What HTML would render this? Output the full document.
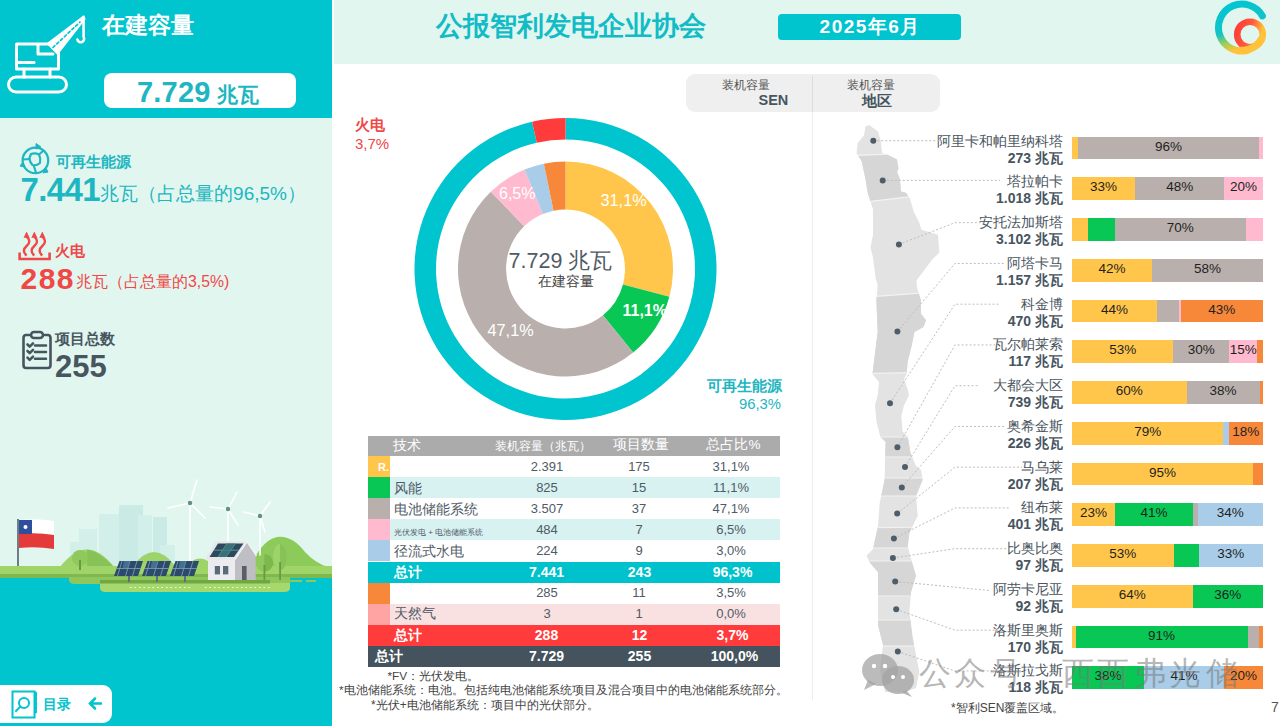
<!DOCTYPE html>
<html><head><meta charset="utf-8">
<style>
*{margin:0;padding:0;box-sizing:border-box}
html,body{width:1280px;height:726px;overflow:hidden;background:#fff;font-family:"Liberation Sans",sans-serif;position:relative}
.t{position:absolute;white-space:nowrap;line-height:1.2}
.r{position:absolute}
</style></head><body>
<div class="r" style="left:0px;top:0px;width:332px;height:726px;background:#E2F6F0;"></div>
<div class="r" style="left:0px;top:0px;width:332px;height:118px;background:#00C4CE;"></div>
<div class="r" style="left:0px;top:577px;width:332px;height:149px;background:#00C4CE;"></div>
<div class="r" style="left:334px;top:0px;width:946px;height:64px;background:#E2F6F0;"></div>
<div class="r" style="left:811.5px;top:75px;width:1px;height:625px;background:#EDEDED;"></div>
<svg class="r" style="left:0;top:0" width="100" height="100" viewBox="0 0 100 100" fill="none" stroke="#fff" stroke-width="3" stroke-linejoin="round" stroke-linecap="round">
<rect x="8.5" y="77" width="58" height="15" rx="7.5"/>
<rect x="16.5" y="44" width="42" height="25"/>
<line x1="17" y1="62.5" x2="34" y2="62.5"/>
<path d="M38 45 V54 H53"/>
<line x1="24" y1="69" x2="24" y2="77"/><line x1="50" y1="69" x2="50" y2="77"/>
<path d="M47.5 43.5 L83.8 16.2 L84.8 19 L57.5 54Z" fill="#fff" stroke-width="1.5"/>
<path d="M53 47.5 L80 22" stroke="#00C4CE" stroke-width="1.7" stroke-dasharray="2.6 2.6"/>
<path d="M83.6 17 V37 a3.4 3.4 0 1 1 -6.2 2.5" stroke-width="2.6"/>
</svg>
<div class="t" style="left:102px;top:12px;font-size:23px;color:#fff;font-weight:bold;">在建容量</div>
<div class="r" style="left:104px;top:73px;width:192px;height:35px;background:#fff;border-radius:8px"></div>
<div class="t" style="left:137px;top:75px;color:#1DB6C1;font-weight:bold;white-space:nowrap"><span style="font-size:29px;letter-spacing:0.2px">7.729</span><span style="font-size:21px;margin-left:6px">兆瓦</span></div>
<svg class="r" style="left:15px;top:140px" width="40" height="40" viewBox="0 0 40 40" fill="none" stroke="#1DB6C1" stroke-width="2.2" stroke-linejoin="round">
<circle cx="20.4" cy="20.4" r="12.8"/>
<path d="M16 14 Q20 12.5 24 14.5 Q26 18.5 25 23 Q21.5 26 17.5 25 Q14.5 22 14.5 18Z"/>
<path d="M24 14.5 L28.5 10.5 M14.5 19 L8 19.5 M18.5 25 L21 32.5"/>
<path d="M21 3.5 L26 7 L21 9Z M5 26 L8 22 L10 27Z M33 32 L28 33 L31 28Z" fill="#1DB6C1" stroke-width="1"/>
</svg>
<div class="t" style="left:55.5px;top:152.5px;font-size:15.2px;color:#1DB6C1;font-weight:bold;">可再生能源</div>
<div class="t" style="left:20.5px;top:170px;color:#1DB6C1;white-space:nowrap"><span style="font-size:33px;font-weight:bold;letter-spacing:-0.6px">7.441</span><span style="font-size:19px;position:relative;top:-1px">兆瓦（占总量的96,5%）</span></div>
<svg class="r" style="left:16px;top:228px" width="38" height="36" viewBox="0 0 38 36" fill="none" stroke="#F04747" stroke-width="2.4" stroke-linecap="butt">
<path d="M3.6 24.5 V31 H33.6 V24.5" stroke-width="2.6"/>
<path d="M10.6 27.5 C7.0 24.5 7.0 21 10.6 18 C14.2 15 14.2 11.5 10.6 8.5"/><path d="M18.3 27.5 C14.700000000000001 24.5 14.700000000000001 21 18.3 18 C21.900000000000002 15 21.900000000000002 11.5 18.3 8.5"/><path d="M26.3 27.5 C22.7 24.5 22.7 21 26.3 18 C29.900000000000002 15 29.900000000000002 11.5 26.3 8.5"/>
<path d="M7.6 9.8 L10.6 3.5 L13.6 9.8Z M15.3 9.8 L18.3 3.5 L21.3 9.8Z M23.3 9.8 L26.3 3.5 L29.3 9.8Z " fill="#F04747" stroke="none"/>
</svg>
<div class="t" style="left:55px;top:241.5px;font-size:15px;color:#F04747;font-weight:bold;">火电</div>
<div class="t" style="left:20.5px;top:261px;color:#F04747;white-space:nowrap"><span style="font-size:30px;font-weight:bold;letter-spacing:1.5px">288</span><span style="font-size:15.8px;position:relative;top:-2px;margin-left:1px">兆瓦（占总量的3,5%)</span></div>
<svg class="r" style="left:20px;top:329px" width="34" height="42" viewBox="0 0 34 42" fill="none" stroke="#47555F" stroke-width="2.6" stroke-linecap="round" stroke-linejoin="round">
<path d="M9 6 H6 Q3.5 6 3.5 9 V36 Q3.5 39 6 39 H28 Q30.5 39 30.5 36 V9 Q30.5 6 28 6 H25"/>
<rect x="11" y="3" width="12" height="6" rx="3"/>
<path d="M7.5 15.5 l2.2 2.2 l3.3 -3.3 M7.5 22 l2.2 2.2 l3.3 -3.3 M7.5 28.7 l2.2 2.2 l3.3 -3.3"/>
<path d="M15 16.5 H26 M15 23 H26 M15 29.7 H26"/>
</svg>
<div class="t" style="left:55px;top:329.5px;font-size:15.3px;color:#47555F;font-weight:bold;">项目总数</div>
<div class="t" style="left:55px;top:348px;font-size:31px;color:#47555F;font-weight:bold;">255</div>
<svg class="r" style="left:0;top:470px" width="332" height="135" viewBox="0 470 332 135">
<g fill="#CDEDE8" opacity="0.75">
<rect x="79" y="529" width="18" height="38"/><rect x="70" y="542" width="12" height="25"/>
<rect x="99" y="514" width="22" height="53"/><rect x="119" y="505" width="24" height="62" fill="#C3E8E2"/>
<rect x="138" y="515" width="14" height="52"/><rect x="153" y="517" width="14" height="50" fill="#C3E8E2"/>
<rect x="160" y="545" width="15" height="22"/>
</g>
<g fill="#9ED36A">
<path d="M60 567 Q87 532 114 567 Z"/><path d="M87 549.5 Q100 552 114 567 H87Z" fill="#86C255"/>
<path d="M132 567 Q154 537 176 567Z"/>
<path d="M185 567 Q200 550 215 567Z"/>
<path d="M250 567 Q262 540 277 537 Q292 535 305 552 Q315 563 328 567Z" fill="#8CCB5A"/>
</g>
<rect x="0" y="566" width="332" height="9" fill="#9FD468"/>
<rect x="0" y="574" width="332" height="4" fill="#7FB84E"/><path d="M69 577 H290 V584 H75 Q69 584 69 580Z" fill="#8FC75C"/><path d="M290 580 h12 v2 h-12Z M306 580 h10 v2 h-10Z" fill="#8FC75C"/>
<path d="M100 583 H290 V588 Q290 592 284 592 H106 Q100 592 100 588Z" fill="#A6D86E"/>
<rect x="100" y="580" width="170" height="3.5" fill="#6FA843"/>
<g stroke="#fff" stroke-width="1.2" stroke-dasharray="1.5 3" opacity="0.9"><line x1="130" y1="587.5" x2="190" y2="587.5"/><line x1="205" y1="587.5" x2="270" y2="587.5"/></g>
<rect x="17" y="519" width="2" height="47" fill="#6E7D86"/>
<path d="M19 520 Q36 518 54 521 V535 Q36 532 19 534Z" fill="#fff"/>
<path d="M19 534 Q36 532 54 535 V549 Q36 546 19 548Z" fill="#E43A3A"/>
<rect x="19" y="520" width="13" height="14" fill="#2E4E9E"/>
<circle cx="25.5" cy="527" r="2" fill="#fff"/>
<circle cx="80" cy="558" r="8" fill="#8FC85C"/><rect x="79" y="560" width="2" height="10" fill="#6C9A3E"/>
<circle cx="264.4" cy="562.8" r="8.7" fill="#8FC85C"/><path d="M264.4 554 A8.7 8.7 0 0 1 264.4 571.5Z" fill="#7DB84C"/><rect x="263.5" y="565" width="1.8" height="15" fill="#6C9A3E"/>
<ellipse cx="280" cy="557" rx="7" ry="13" fill="#9DD46A"/><path d="M280 544 A7 13 0 0 1 280 570Z" fill="#86C255"/><rect x="279.2" y="562" width="1.8" height="18" fill="#6C9A3E"/>
<g stroke="#fff" stroke-width="1.6" fill="none" stroke-linecap="round">
<line x1="190" y1="503" x2="190" y2="568"/><path d="M190 503 L197 480 M190 503 L168 508 M190 503 L205 518"/>
<line x1="228" y1="509" x2="228" y2="545"/><path d="M228 509 L237 492 M228 509 L210 507 M228 509 L238 525"/>
<line x1="260" y1="516" x2="260" y2="555"/><path d="M260 516 L270 502 M260 516 L244 512 M260 516 L265 532"/>
</g>
<circle cx="190" cy="503" r="2.2" fill="#5F8F8A"/><circle cx="228" cy="509" r="2.2" fill="#5F8F8A"/><circle cx="260" cy="516" r="2.2" fill="#5F8F8A"/>
<path d="M208 559 H235 V580 H208Z" fill="#ECEBEF"/>
<path d="M235 559 L247 541.6 L255.7 555 V580 H235Z" fill="#BFBEC5"/>
<path d="M205 559.5 L215.7 541.6 H247 L235.5 559.5Z" fill="#E6E7EA"/><path d="M235 559.5 L247 541.6 L256.5 556" fill="none" stroke="#F4F4F6" stroke-width="1.3"/>
<path d="M209.5 557 L218 543.5 H243.5 L234 557Z" fill="#2C4A5E"/>
<rect x="214.8" y="566" width="5.2" height="8.4" fill="#5A6B78"/><rect x="223" y="566" width="5.3" height="8.4" fill="#5A6B78"/>
<rect x="242" y="566" width="4.6" height="14" fill="#5D5D66"/>
<g>
<path d="M114 576 L119.5 561 H143 L138 576Z" fill="#2D4A6A"/><path d="M142 576 L147.5 561 H171 L166 576Z" fill="#2D4A6A"/><path d="M170 576 L175.5 561 H199 L194 576Z" fill="#2D4A6A"/>
<g stroke="#7FA6BE" stroke-width="0.9" opacity="0.9">
<path d="M116.8 568.5 H140.5 M122 561 L117.5 576 M130 561 L125.5 576 M137 561 L132.5 576"/>
<path d="M144.8 568.5 H168.5 M150 561 L145.5 576 M158 561 L153.5 576 M165 561 L160.5 576"/>
<path d="M172.8 568.5 H196.5 M178 561 L173.5 576 M186 561 L181.5 576 M193 561 L188.5 576"/>
</g>
<path d="M124 561 h6 l-1.5 7 h-6Z M152 561 h6 l-1.5 7 h-6Z M180 561 h6 l-1.5 7 h-6Z" fill="#4F7FA3" opacity="0.7"/>
</g>
<g fill="#5F6F80"><rect x="128" y="576" width="2" height="6"/><rect x="156" y="576" width="2" height="6"/><rect x="184" y="576" width="2" height="6"/></g>
<g stroke="#6FA3B0" stroke-width="0.8"><path d="M214 550.2 H239 M227 543.5 L218 557 M235.5 543.5 L226 557"/></g><path d="M227 543.5 H235.5 L231.5 550 H223Z M222.5 550.2 H231 L226 557 H218Z" fill="#3F7A80" opacity="0.8"/>
</svg>
<div class="r" style="left:0px;top:685px;width:112px;height:38px;background:#fff;border-radius:0 9px 9px 0"></div>
<svg class="r" style="left:10px;top:689px" width="100" height="32" viewBox="0 0 100 32" fill="none" stroke="#00C4CE" stroke-width="2" stroke-linecap="round">
<rect x="2.5" y="2.5" width="22" height="26"/>
<line x1="25.5" y1="4" x2="25.5" y2="23" stroke-width="3" stroke-dasharray="3 1.5"/>
<circle cx="14" cy="14" r="5"/><line x1="10.5" y1="17.5" x2="6" y2="22"/>
<path d="M91 14.5 H80 M85 9.5 L80 14.5 L85 19.5" stroke-width="2.5"/>
</svg>
<div class="t" style="left:42.5px;top:695.5px;font-size:14px;color:#00C4CE;font-weight:bold;">目录</div>
<div class="t" style="left:436px;top:9.5px;font-size:27px;color:#12BCC6;font-weight:bold;">公报智利发电企业协会</div>
<div class="r" style="left:778px;top:13.5px;width:183px;height:26.5px;background:#00C4CE;border-radius:4px"></div>
<div class="t" style="left:778px;top:14px;width:183px;line-height:26px;text-align:center;font-size:19px;font-weight:bold;color:#fff;letter-spacing:1.5px;text-indent:1.5px">2025年6月</div>
<svg class="r" style="left:1208px;top:0px" width="72" height="64" viewBox="1208 0 72 64">
<defs>
<linearGradient id="lg1" x1="0" y1="0" x2="0.3" y2="1"><stop offset="0" stop-color="#00C5D6"/><stop offset="0.6" stop-color="#12C4C4"/><stop offset="0.82" stop-color="#9CCF5A"/><stop offset="1" stop-color="#FFC23A"/></linearGradient>
<linearGradient id="lg2" x1="0" y1="0" x2="1" y2="0.3"><stop offset="0" stop-color="#FF3B3B"/><stop offset="0.55" stop-color="#FF5A3A"/><stop offset="1" stop-color="#FFC23A"/></linearGradient>
</defs>
<path d="M1262.4 15.9 A23.5 23.5 0 1 0 1247 50.5" fill="none" stroke="url(#lg1)" stroke-width="7" stroke-linecap="round"/>
<circle cx="1250" cy="34.5" r="12.8" fill="none" stroke="url(#lg2)" stroke-width="6.6"/>
<path d="M1240 50 Q1254 52 1262 38" fill="none" stroke="#FFC23A" stroke-width="7"/>
</svg>
<div class="r" style="left:686px;top:73.5px;width:254px;height:38.5px;background:#EFEFEF;border-radius:9px"></div>
<div class="r" style="left:811.5px;top:76px;width:1px;height:36px;background:#DCDCDC;"></div>
<div class="t" style="left:721.5px;top:78px;font-size:12px;color:#555;font-weight:normal;">装机容量</div>
<div class="t" style="left:758.5px;top:92px;font-size:14.5px;color:#47555F;font-weight:bold;">SEN</div>
<div class="t" style="left:847px;top:78px;font-size:12px;color:#555;font-weight:normal;">装机容量</div>
<div class="t" style="left:862px;top:91.5px;font-size:15px;color:#47555F;font-weight:bold;">地区</div>
<svg class="r" style="left:0;top:0" width="1280" height="726" viewBox="0 0 1280 726"><path d="M565.50 118.00 A151 151 0 1 1 532.05 121.75 L536.81 142.72 A129.5 129.5 0 1 0 565.50 139.50Z" fill="#00C4CE"/><path d="M532.05 121.75 A151 151 0 0 1 565.50 118.00 L565.50 139.50 A129.5 129.5 0 0 0 536.81 142.72Z" fill="#FF3B3B"/><path d="M565.50 161.50 A107.5 107.5 0 0 1 669.34 296.82 L622.97 284.40 A59.5 59.5 0 0 0 565.50 209.50Z" fill="#FFC64B"/><path d="M669.34 296.82 A107.5 107.5 0 0 1 633.15 352.54 L602.94 315.24 A59.5 59.5 0 0 0 622.97 284.40Z" fill="#08C755"/><path d="M633.15 352.54 A107.5 107.5 0 0 1 490.82 191.67 L524.17 226.20 A59.5 59.5 0 0 0 602.94 315.24Z" fill="#B9AFAC"/><path d="M490.82 191.67 A107.5 107.5 0 0 1 524.53 169.61 L542.83 213.99 A59.5 59.5 0 0 0 524.17 226.20Z" fill="#FFBAD0"/><path d="M524.53 169.61 A107.5 107.5 0 0 1 543.88 163.70 L553.54 210.72 A59.5 59.5 0 0 0 542.83 213.99Z" fill="#A9CDE8"/><path d="M543.88 163.70 A107.5 107.5 0 0 1 565.50 161.50 L565.50 209.50 A59.5 59.5 0 0 0 553.54 210.72Z" fill="#F7883A"/></svg>
<div class="t" style="left:600.5px;top:191px;font-size:16.3px;color:#fff;font-weight:normal;">31,1%</div>
<div class="t" style="left:622.5px;top:301px;font-size:16px;color:#fff;font-weight:bold;">11,1%</div>
<div class="t" style="left:487.5px;top:320.5px;font-size:16.3px;color:#fff;font-weight:normal;">47,1%</div>
<div class="t" style="left:499px;top:183.5px;font-size:16px;color:#fff;font-weight:normal;">6,5%</div>
<div class="t" style="left:460.5px;top:249px;width:200px;text-align:center;font-size:21.5px;color:#4F5B66;white-space:nowrap">7.729 兆瓦</div>
<div class="t" style="left:466.0px;top:274px;width:200px;text-align:center;font-size:13.5px;color:#444;font-weight:normal;">在建容量</div>
<div class="t" style="left:355px;top:115.5px;font-size:15px;color:#F04747;font-weight:bold;">火电</div>
<div class="t" style="left:355px;top:135px;font-size:15px;color:#F04747;font-weight:normal;">3,7%</div>
<div class="t" style="right:498px;top:376.5px;font-size:15px;color:#1DB6C1;font-weight:bold;text-align:right;">可再生能源</div>
<div class="t" style="right:499px;top:395.5px;font-size:14.8px;color:#1DB6C1;font-weight:normal;text-align:right;">96,3%</div>
<div class="r" style="left:368px;top:435.5px;width:412px;height:20.5px;background:#ABABAB;"></div>
<div class="t" style="left:393px;top:436.5px;font-size:14px;color:#fff">技术</div>
<div class="t" style="left:483.0px;top:438.5px;width:120px;text-align:center;font-size:12px;color:#fff;font-weight:normal;">装机容量（兆瓦）</div>
<div class="t" style="left:540.5px;top:437px;width:200px;text-align:center;font-size:13.5px;color:#fff;font-weight:normal;">项目数量</div>
<div class="t" style="left:633.5px;top:437px;width:200px;text-align:center;font-size:13.5px;color:#fff;font-weight:normal;">总占比%</div>
<div class="r" style="left:390px;top:456px;width:390px;height:21.1px;background:#fff;"></div>
<div class="r" style="left:368px;top:456px;width:22px;height:21.1px;background:#FFC64B;"></div>
<div class="t" style="left:394px;top:458px;font-size:14px;color:#4F5B66;font-weight:normal;line-height:19.1px"></div>
<div class="t" style="left:447.0px;top:458.5px;width:200px;text-align:center;font-size:13px;color:#4F5B66;font-weight:normal;">2.391</div>
<div class="t" style="left:539.0px;top:458.5px;width:200px;text-align:center;font-size:13px;color:#4F5B66;font-weight:normal;">175</div>
<div class="t" style="left:631.0px;top:458.5px;width:200px;text-align:center;font-size:13px;color:#4F5B66;font-weight:normal;">31,1%</div>
<div class="r" style="left:390px;top:477.1px;width:390px;height:21.1px;background:#D8F1F1;"></div>
<div class="r" style="left:368px;top:477.1px;width:22px;height:21.1px;background:#08C755;"></div>
<div class="t" style="left:394px;top:479.1px;font-size:14px;color:#4F5B66;font-weight:normal;line-height:19.1px">风能</div>
<div class="t" style="left:447.0px;top:479.6px;width:200px;text-align:center;font-size:13px;color:#4F5B66;font-weight:normal;">825</div>
<div class="t" style="left:539.0px;top:479.6px;width:200px;text-align:center;font-size:13px;color:#4F5B66;font-weight:normal;">15</div>
<div class="t" style="left:631.0px;top:479.6px;width:200px;text-align:center;font-size:13px;color:#4F5B66;font-weight:normal;">11,1%</div>
<div class="r" style="left:390px;top:498.20000000000005px;width:390px;height:21.1px;background:#fff;"></div>
<div class="r" style="left:368px;top:498.20000000000005px;width:22px;height:21.1px;background:#B9AFAC;"></div>
<div class="t" style="left:394px;top:500.20000000000005px;font-size:14px;color:#4F5B66;font-weight:normal;line-height:19.1px">电池储能系统</div>
<div class="t" style="left:447.0px;top:500.70000000000005px;width:200px;text-align:center;font-size:13px;color:#4F5B66;font-weight:normal;">3.507</div>
<div class="t" style="left:539.0px;top:500.70000000000005px;width:200px;text-align:center;font-size:13px;color:#4F5B66;font-weight:normal;">37</div>
<div class="t" style="left:631.0px;top:500.70000000000005px;width:200px;text-align:center;font-size:13px;color:#4F5B66;font-weight:normal;">47,1%</div>
<div class="r" style="left:390px;top:519.3000000000001px;width:390px;height:21.1px;background:#D8F1F1;"></div>
<div class="r" style="left:368px;top:519.3000000000001px;width:22px;height:21.1px;background:#FFBAD0;"></div>
<div class="t" style="left:394px;top:521.3000000000001px;font-size:14px;color:#4F5B66;font-weight:normal;line-height:19.1px"><span style="font-size:8px">光伏发电 + 电池储能系统</span></div>
<div class="t" style="left:447.0px;top:521.8000000000001px;width:200px;text-align:center;font-size:13px;color:#4F5B66;font-weight:normal;">484</div>
<div class="t" style="left:539.0px;top:521.8000000000001px;width:200px;text-align:center;font-size:13px;color:#4F5B66;font-weight:normal;">7</div>
<div class="t" style="left:631.0px;top:521.8000000000001px;width:200px;text-align:center;font-size:13px;color:#4F5B66;font-weight:normal;">6,5%</div>
<div class="r" style="left:390px;top:540.4000000000001px;width:390px;height:21.1px;background:#fff;"></div>
<div class="r" style="left:368px;top:540.4000000000001px;width:22px;height:21.1px;background:#A9CDE8;"></div>
<div class="t" style="left:394px;top:542.4000000000001px;font-size:14px;color:#4F5B66;font-weight:normal;line-height:19.1px">径流式水电</div>
<div class="t" style="left:447.0px;top:542.9000000000001px;width:200px;text-align:center;font-size:13px;color:#4F5B66;font-weight:normal;">224</div>
<div class="t" style="left:539.0px;top:542.9000000000001px;width:200px;text-align:center;font-size:13px;color:#4F5B66;font-weight:normal;">9</div>
<div class="t" style="left:631.0px;top:542.9000000000001px;width:200px;text-align:center;font-size:13px;color:#4F5B66;font-weight:normal;">3,0%</div>
<div class="t" style="left:378px;top:460.5000000000001px;font-size:11px;color:#fff;font-weight:bold;">R.</div>
<div class="r" style="left:368px;top:561.5000000000001px;width:412px;height:21.1px;background:#00C2CC;"></div>
<div class="t" style="left:394px;top:564.0000000000001px;font-size:14px;color:#fff;font-weight:bold;">总计</div>
<div class="t" style="left:446.5px;top:564.0000000000001px;width:200px;text-align:center;font-size:14px;color:#fff;font-weight:bold;">7.441</div>
<div class="t" style="left:539.5px;top:564.0000000000001px;width:200px;text-align:center;font-size:14px;color:#fff;font-weight:bold;">243</div>
<div class="t" style="left:632.5px;top:564.0000000000001px;width:200px;text-align:center;font-size:14px;color:#fff;font-weight:bold;">96,3%</div>
<div class="r" style="left:390px;top:582.6000000000001px;width:390px;height:21.1px;background:#fff;"></div>
<div class="r" style="left:368px;top:582.6000000000001px;width:22px;height:21.1px;background:#F7883A;"></div>
<div class="t" style="left:447.0px;top:585.1000000000001px;width:200px;text-align:center;font-size:13px;color:#4F5B66;font-weight:normal;">285</div>
<div class="t" style="left:539.0px;top:585.1000000000001px;width:200px;text-align:center;font-size:13px;color:#4F5B66;font-weight:normal;">11</div>
<div class="t" style="left:631.0px;top:585.1000000000001px;width:200px;text-align:center;font-size:13px;color:#4F5B66;font-weight:normal;">3,5%</div>
<div class="r" style="left:390px;top:603.7000000000002px;width:390px;height:21.1px;background:#F9E1E1;"></div>
<div class="r" style="left:368px;top:603.7000000000002px;width:22px;height:21.1px;background:#FFA3A3;"></div>
<div class="t" style="left:394px;top:605.2000000000002px;font-size:14px;color:#4F5B66;font-weight:normal;">天然气</div>
<div class="t" style="left:447.0px;top:606.2000000000002px;width:200px;text-align:center;font-size:13px;color:#4F5B66;font-weight:normal;">3</div>
<div class="t" style="left:539.0px;top:606.2000000000002px;width:200px;text-align:center;font-size:13px;color:#4F5B66;font-weight:normal;">1</div>
<div class="t" style="left:631.0px;top:606.2000000000002px;width:200px;text-align:center;font-size:13px;color:#4F5B66;font-weight:normal;">0,0%</div>
<div class="r" style="left:368px;top:624.8000000000002px;width:412px;height:21.1px;background:#FF3B3B;"></div>
<div class="t" style="left:394px;top:627.3000000000002px;font-size:14px;color:#fff;font-weight:bold;">总计</div>
<div class="t" style="left:446.5px;top:627.3000000000002px;width:200px;text-align:center;font-size:14px;color:#fff;font-weight:bold;">288</div>
<div class="t" style="left:539.5px;top:627.3000000000002px;width:200px;text-align:center;font-size:14px;color:#fff;font-weight:bold;">12</div>
<div class="t" style="left:632.5px;top:627.3000000000002px;width:200px;text-align:center;font-size:14px;color:#fff;font-weight:bold;">3,7%</div>
<div class="r" style="left:368px;top:645.9000000000002px;width:412px;height:21.1px;background:#44535D;"></div>
<div class="t" style="left:375px;top:648.4000000000002px;font-size:14px;color:#fff;font-weight:bold;">总计</div>
<div class="t" style="left:446.5px;top:648.4000000000002px;width:200px;text-align:center;font-size:14px;color:#fff;font-weight:bold;">7.729</div>
<div class="t" style="left:539.5px;top:648.4000000000002px;width:200px;text-align:center;font-size:14px;color:#fff;font-weight:bold;">255</div>
<div class="t" style="left:634.5px;top:648.4000000000002px;width:200px;text-align:center;font-size:14px;color:#fff;font-weight:bold;">100,0%</div>
<div class="t" style="left:387.5px;top:668.5px;font-size:11.8px;color:#444;font-weight:normal;">*FV：光伏发电。</div>
<div class="t" style="left:339px;top:682.5px;font-size:11.7px;color:#444;font-weight:normal;">*电池储能系统：电池。包括纯电池储能系统项目及混合项目中的电池储能系统部分。</div>
<div class="t" style="left:371px;top:697.5px;font-size:11.9px;color:#444;font-weight:normal;">*光伏+电池储能系统：项目中的光伏部分。</div>
<svg class="r" style="left:0;top:0" width="1280" height="726" viewBox="0 0 1280 726"><defs><clipPath id="cp"><path d="M869 125 L878 131.6 L880.7 140.5 L882 153 L887 154.5 L897 159.6 L898.5 168.5 L897 172.3 L899.8 178.7 L901 191.5 L906 192.7 L910 199 L913.8 211.8 L919 222 L921.5 229.7 L938 234.8 L939.3 252.6 L931.6 260.3 L924 270.5 L916.4 280.6 L917 287.6 L921 300.7 L921 313.8 L926 320.3 L923.5 327 L914.4 332 L911.8 345.2 L907.8 361 L906.5 374 L904 379.2 L907.8 389.7 L909 395 L904 405.4 L901.3 416 L902.6 431.6 L907.8 436.8 L910.4 452.5 L915.7 465.6 L921 470 L922.6 479.8 L916 496.3 L917.7 516 L909.4 532.7 L907.7 546 L911 559 L916 575.6 L911 592 L909.4 612 L912.7 638.3 L916 655 L919.3 671.4 L916 688 L904.4 692 L885 692 L880 670 L883 645 L878 625 L878 602 L878 572.3 L869.8 562.4 L866.5 555.8 L873 549 L878 526 L879.7 503 L884.6 479.8 L885 462 L885.6 442 L880.3 436.8 L876.4 421 L875 405.4 L877.7 395 L879 381.9 L872.5 374 L875 353 L877.7 332 L876.4 300.7 L877.7 285 L875.6 278 L873 257.7 L870.5 247.5 L873 234.8 L873 209.3 L868 194 L865.4 178.7 L861.6 160.9 L856.5 153.2 L857.7 143 L864 135.4 L865.4 126.5Z"/></clipPath></defs><path d="M869 125 L878 131.6 L880.7 140.5 L882 153 L887 154.5 L897 159.6 L898.5 168.5 L897 172.3 L899.8 178.7 L901 191.5 L906 192.7 L910 199 L913.8 211.8 L919 222 L921.5 229.7 L938 234.8 L939.3 252.6 L931.6 260.3 L924 270.5 L916.4 280.6 L917 287.6 L921 300.7 L921 313.8 L926 320.3 L923.5 327 L914.4 332 L911.8 345.2 L907.8 361 L906.5 374 L904 379.2 L907.8 389.7 L909 395 L904 405.4 L901.3 416 L902.6 431.6 L907.8 436.8 L910.4 452.5 L915.7 465.6 L921 470 L922.6 479.8 L916 496.3 L917.7 516 L909.4 532.7 L907.7 546 L911 559 L916 575.6 L911 592 L909.4 612 L912.7 638.3 L916 655 L919.3 671.4 L916 688 L904.4 692 L885 692 L880 670 L883 645 L878 625 L878 602 L878 572.3 L869.8 562.4 L866.5 555.8 L873 549 L878 526 L879.7 503 L884.6 479.8 L885 462 L885.6 442 L880.3 436.8 L876.4 421 L875 405.4 L877.7 395 L879 381.9 L872.5 374 L875 353 L877.7 332 L876.4 300.7 L877.7 285 L875.6 278 L873 257.7 L870.5 247.5 L873 234.8 L873 209.3 L868 194 L865.4 178.7 L861.6 160.9 L856.5 153.2 L857.7 143 L864 135.4 L865.4 126.5Z" fill="#E3E3E3"/><g clip-path="url(#cp)"><path d="M840 156 L950 152 L950 192 L840 205Z" fill="#D6D6D6"/><path d="M840 299 L950 291 L950 372 L840 374Z" fill="#D6D6D6"/><path d="M840 437 L950 437 L950 457 L840 457Z" fill="#D6D6D6"/><path d="M840 478 L950 478 L950 496 L840 496Z" fill="#D6D6D6"/><path d="M840 528 L950 527 L950 548 L840 548Z" fill="#D6D6D6"/><path d="M840 561 L950 561 L950 596 L840 596Z" fill="#D6D6D6"/><path d="M840 620 L950 620 L950 646 L840 646Z" fill="#D6D6D6"/><g stroke="#F2F2F2" stroke-width="1.2" fill="none"><path d="M840 156 L950 152"/><path d="M840 205 L950 192"/><path d="M840 299 L950 291"/><path d="M840 374 L950 372"/><path d="M840 437 L950 437"/><path d="M840 457 L950 457"/><path d="M840 478 L950 478"/><path d="M840 496 L950 496"/><path d="M840 528 L950 527"/><path d="M840 548 L950 548"/><path d="M840 561 L950 561"/><path d="M840 596 L950 596"/><path d="M840 620 L950 620"/><path d="M840 646 L950 646"/></g></g></svg>
<div class="r" style="left:1072px;top:136.7px;width:6.3px;height:22.7px;background:#FFC64B;"></div>
<div class="r" style="left:1078.0px;top:136.7px;width:181.10000000000002px;height:22.7px;background:#B9AFAC;"></div>
<div class="t" style="left:1078.00px;top:138.5px;width:180.80px;text-align:center;font-size:13.5px;color:#1F1F1F">96%</div>
<div class="r" style="left:1258.8px;top:136.7px;width:4.3px;height:22.7px;background:#FFBAD0;"></div>
<div class="t" style="right:216.5999999999999px;top:133.5px;font-size:13.7px;color:#4A5560;font-weight:normal;text-align:right;">阿里卡和帕里纳科塔</div>
<div class="t" style="right:217px;top:149.7px;font-size:14px;color:#47555F;font-weight:bold;text-align:right;">273 兆瓦</div>
<div class="r" style="left:1072px;top:177.45px;width:63.5px;height:22.7px;background:#FFC64B;"></div>
<div class="t" style="left:1072.00px;top:179.25px;width:63.20px;text-align:center;font-size:13.5px;color:#1F1F1F">33%</div>
<div class="r" style="left:1135.2px;top:177.45px;width:89.5px;height:22.7px;background:#B9AFAC;"></div>
<div class="t" style="left:1135.20px;top:179.25px;width:89.20px;text-align:center;font-size:13.5px;color:#1F1F1F">48%</div>
<div class="r" style="left:1224.4px;top:177.45px;width:38.699999999999996px;height:22.7px;background:#FFBAD0;"></div>
<div class="t" style="left:1224.40px;top:179.25px;width:38.40px;text-align:center;font-size:13.5px;color:#1F1F1F">20%</div>
<div class="t" style="right:216.5999999999999px;top:174.25px;font-size:13.7px;color:#4A5560;font-weight:normal;text-align:right;">塔拉帕卡</div>
<div class="t" style="right:217px;top:190.45px;font-size:14px;color:#47555F;font-weight:bold;text-align:right;">1.018 兆瓦</div>
<div class="r" style="left:1072px;top:218.2px;width:16.7px;height:22.7px;background:#FFC64B;"></div>
<div class="r" style="left:1088.4px;top:218.2px;width:26.6px;height:22.7px;background:#08C755;"></div>
<div class="r" style="left:1114.7px;top:218.2px;width:131.5px;height:22.7px;background:#B9AFAC;"></div>
<div class="t" style="left:1114.70px;top:220.0px;width:131.20px;text-align:center;font-size:13.5px;color:#1F1F1F">70%</div>
<div class="r" style="left:1245.9px;top:218.2px;width:17.2px;height:22.7px;background:#FFBAD0;"></div>
<div class="t" style="right:216.5999999999999px;top:215.0px;font-size:13.7px;color:#4A5560;font-weight:normal;text-align:right;">安托法加斯塔</div>
<div class="t" style="right:217px;top:231.2px;font-size:14px;color:#47555F;font-weight:bold;text-align:right;">3.102 兆瓦</div>
<div class="r" style="left:1072px;top:258.95px;width:80.3px;height:22.7px;background:#FFC64B;"></div>
<div class="t" style="left:1072.00px;top:260.75px;width:80.00px;text-align:center;font-size:13.5px;color:#1F1F1F">42%</div>
<div class="r" style="left:1152.0px;top:258.95px;width:111.1px;height:22.7px;background:#B9AFAC;"></div>
<div class="t" style="left:1152.00px;top:260.75px;width:110.80px;text-align:center;font-size:13.5px;color:#1F1F1F">58%</div>
<div class="t" style="right:216.5999999999999px;top:255.75px;font-size:13.7px;color:#4A5560;font-weight:normal;text-align:right;">阿塔卡马</div>
<div class="t" style="right:217px;top:271.95px;font-size:14px;color:#47555F;font-weight:bold;text-align:right;">1.157 兆瓦</div>
<div class="r" style="left:1072px;top:299.7px;width:85.1px;height:22.7px;background:#FFC64B;"></div>
<div class="t" style="left:1072.00px;top:301.5px;width:84.80px;text-align:center;font-size:13.5px;color:#1F1F1F">44%</div>
<div class="r" style="left:1156.8px;top:299.7px;width:22.900000000000002px;height:22.7px;background:#B9AFAC;"></div>
<div class="r" style="left:1179.4px;top:299.7px;width:1.7px;height:22.7px;background:#FFBAD0;"></div>
<div class="r" style="left:1180.8px;top:299.7px;width:82.3px;height:22.7px;background:#F7883A;"></div>
<div class="t" style="left:1180.80px;top:301.5px;width:82.00px;text-align:center;font-size:13.5px;color:#1F1F1F">43%</div>
<div class="t" style="right:216.5999999999999px;top:296.5px;font-size:13.7px;color:#4A5560;font-weight:normal;text-align:right;">科金博</div>
<div class="t" style="right:217px;top:312.7px;font-size:14px;color:#47555F;font-weight:bold;text-align:right;">470 兆瓦</div>
<div class="r" style="left:1072px;top:340.45px;width:101.6px;height:22.7px;background:#FFC64B;"></div>
<div class="t" style="left:1072.00px;top:342.25px;width:101.30px;text-align:center;font-size:13.5px;color:#1F1F1F">53%</div>
<div class="r" style="left:1173.3px;top:340.45px;width:56.099999999999994px;height:22.7px;background:#B9AFAC;"></div>
<div class="t" style="left:1173.30px;top:342.25px;width:55.80px;text-align:center;font-size:13.5px;color:#1F1F1F">30%</div>
<div class="r" style="left:1229.1px;top:340.45px;width:28.400000000000002px;height:22.7px;background:#FFBAD0;"></div>
<div class="t" style="left:1229.10px;top:342.25px;width:28.10px;text-align:center;font-size:13.5px;color:#1F1F1F">15%</div>
<div class="r" style="left:1257.2px;top:340.45px;width:5.8999999999999995px;height:22.7px;background:#F7883A;"></div>
<div class="t" style="right:216.5999999999999px;top:337.25px;font-size:13.7px;color:#4A5560;font-weight:normal;text-align:right;">瓦尔帕莱索</div>
<div class="t" style="right:217px;top:353.45px;font-size:14px;color:#47555F;font-weight:bold;text-align:right;">117 兆瓦</div>
<div class="r" style="left:1072px;top:381.2px;width:114.89999999999999px;height:22.7px;background:#FFC64B;"></div>
<div class="t" style="left:1072.00px;top:383.0px;width:114.60px;text-align:center;font-size:13.5px;color:#1F1F1F">60%</div>
<div class="r" style="left:1186.6px;top:381.2px;width:73.2px;height:22.7px;background:#B9AFAC;"></div>
<div class="t" style="left:1186.60px;top:383.0px;width:72.90px;text-align:center;font-size:13.5px;color:#1F1F1F">38%</div>
<div class="r" style="left:1259.5px;top:381.2px;width:3.5999999999999996px;height:22.7px;background:#F7883A;"></div>
<div class="t" style="right:216.5999999999999px;top:378.0px;font-size:13.7px;color:#4A5560;font-weight:normal;text-align:right;">大都会大区</div>
<div class="t" style="right:217px;top:394.2px;font-size:14px;color:#47555F;font-weight:bold;text-align:right;">739 兆瓦</div>
<div class="r" style="left:1072px;top:421.95px;width:151.60000000000002px;height:22.7px;background:#FFC64B;"></div>
<div class="t" style="left:1072.00px;top:423.75px;width:151.30px;text-align:center;font-size:13.5px;color:#1F1F1F">79%</div>
<div class="r" style="left:1223.3px;top:421.95px;width:5.5px;height:22.7px;background:#A9CDE8;"></div>
<div class="r" style="left:1228.5px;top:421.95px;width:34.599999999999994px;height:22.7px;background:#F7883A;"></div>
<div class="t" style="left:1228.50px;top:423.75px;width:34.30px;text-align:center;font-size:13.5px;color:#1F1F1F">18%</div>
<div class="t" style="right:216.5999999999999px;top:418.75px;font-size:13.7px;color:#4A5560;font-weight:normal;text-align:right;">奥希金斯</div>
<div class="t" style="right:217px;top:434.95px;font-size:14px;color:#47555F;font-weight:bold;text-align:right;">226 兆瓦</div>
<div class="r" style="left:1072px;top:462.7px;width:181.10000000000002px;height:22.7px;background:#FFC64B;"></div>
<div class="t" style="left:1072.00px;top:464.5px;width:180.80px;text-align:center;font-size:13.5px;color:#1F1F1F">95%</div>
<div class="r" style="left:1252.8px;top:462.7px;width:10.3px;height:22.7px;background:#F7883A;"></div>
<div class="t" style="right:216.5999999999999px;top:459.5px;font-size:13.7px;color:#4A5560;font-weight:normal;text-align:right;">马乌莱</div>
<div class="t" style="right:217px;top:475.7px;font-size:14px;color:#47555F;font-weight:bold;text-align:right;">207 兆瓦</div>
<div class="r" style="left:1072px;top:503.45px;width:43.3px;height:22.7px;background:#FFC64B;"></div>
<div class="t" style="left:1072.00px;top:505.25px;width:43.00px;text-align:center;font-size:13.5px;color:#1F1F1F">23%</div>
<div class="r" style="left:1115.0px;top:503.45px;width:78.5px;height:22.7px;background:#08C755;"></div>
<div class="t" style="left:1115.00px;top:505.25px;width:78.20px;text-align:center;font-size:13.5px;color:#1F1F1F">41%</div>
<div class="r" style="left:1193.2px;top:503.45px;width:4.8px;height:22.7px;background:#B9AFAC;"></div>
<div class="r" style="left:1197.7px;top:503.45px;width:65.39999999999999px;height:22.7px;background:#A9CDE8;"></div>
<div class="t" style="left:1197.70px;top:505.25px;width:65.10px;text-align:center;font-size:13.5px;color:#1F1F1F">34%</div>
<div class="t" style="right:216.5999999999999px;top:500.25px;font-size:13.7px;color:#4A5560;font-weight:normal;text-align:right;">纽布莱</div>
<div class="t" style="right:217px;top:516.45px;font-size:14px;color:#47555F;font-weight:bold;text-align:right;">401 兆瓦</div>
<div class="r" style="left:1072px;top:544.2px;width:101.89999999999999px;height:22.7px;background:#FFC64B;"></div>
<div class="t" style="left:1072.00px;top:546.0px;width:101.60px;text-align:center;font-size:13.5px;color:#1F1F1F">53%</div>
<div class="r" style="left:1173.6px;top:544.2px;width:25.400000000000002px;height:22.7px;background:#08C755;"></div>
<div class="r" style="left:1198.7px;top:544.2px;width:64.39999999999999px;height:22.7px;background:#A9CDE8;"></div>
<div class="t" style="left:1198.70px;top:546.0px;width:64.10px;text-align:center;font-size:13.5px;color:#1F1F1F">33%</div>
<div class="t" style="right:216.5999999999999px;top:541.0px;font-size:13.7px;color:#4A5560;font-weight:normal;text-align:right;">比奥比奥</div>
<div class="t" style="right:217px;top:557.2px;font-size:14px;color:#47555F;font-weight:bold;text-align:right;">97 兆瓦</div>
<div class="r" style="left:1072px;top:584.95px;width:120.8px;height:22.7px;background:#FFC64B;"></div>
<div class="t" style="left:1072.00px;top:586.75px;width:120.50px;text-align:center;font-size:13.5px;color:#1F1F1F">64%</div>
<div class="r" style="left:1192.5px;top:584.95px;width:70.6px;height:22.7px;background:#08C755;"></div>
<div class="t" style="left:1192.50px;top:586.75px;width:70.30px;text-align:center;font-size:13.5px;color:#1F1F1F">36%</div>
<div class="t" style="right:216.5999999999999px;top:581.75px;font-size:13.7px;color:#4A5560;font-weight:normal;text-align:right;">阿劳卡尼亚</div>
<div class="t" style="right:217px;top:597.95px;font-size:14px;color:#47555F;font-weight:bold;text-align:right;">92 兆瓦</div>
<div class="r" style="left:1072px;top:625.7px;width:3.8px;height:22.7px;background:#FFC64B;"></div>
<div class="r" style="left:1075.5px;top:625.7px;width:172.4px;height:22.7px;background:#08C755;"></div>
<div class="t" style="left:1075.50px;top:627.5px;width:172.10px;text-align:center;font-size:13.5px;color:#1F1F1F">91%</div>
<div class="r" style="left:1247.6px;top:625.7px;width:11.700000000000001px;height:22.7px;background:#B9AFAC;"></div>
<div class="r" style="left:1259.0px;top:625.7px;width:4.1px;height:22.7px;background:#F7883A;"></div>
<div class="t" style="right:216.5999999999999px;top:622.5px;font-size:13.7px;color:#4A5560;font-weight:normal;text-align:right;">洛斯里奥斯</div>
<div class="t" style="right:217px;top:638.7px;font-size:14px;color:#47555F;font-weight:bold;text-align:right;">170 兆瓦</div>
<div class="r" style="left:1072px;top:666.45px;width:72.3px;height:22.7px;background:#08C755;"></div>
<div class="t" style="left:1072.00px;top:668.25px;width:72.00px;text-align:center;font-size:13.5px;color:#1F1F1F">38%</div>
<div class="r" style="left:1144.0px;top:666.45px;width:80.39999999999999px;height:22.7px;background:#A9CDE8;"></div>
<div class="t" style="left:1144.00px;top:668.25px;width:80.10px;text-align:center;font-size:13.5px;color:#1F1F1F">41%</div>
<div class="r" style="left:1224.1px;top:666.45px;width:39.0px;height:22.7px;background:#F7883A;"></div>
<div class="t" style="left:1224.10px;top:668.25px;width:38.70px;text-align:center;font-size:13.5px;color:#1F1F1F">20%</div>
<div class="t" style="right:216.5999999999999px;top:663.25px;font-size:13.7px;color:#4A5560;font-weight:normal;text-align:right;">洛斯拉戈斯</div>
<div class="t" style="right:217px;top:679.45px;font-size:14px;color:#47555F;font-weight:bold;text-align:right;">118 兆瓦</div>
<svg class="r" style="left:0;top:0" width="1280" height="726" viewBox="0 0 1280 726"><g stroke="#BDBDBD" stroke-width="1" stroke-dasharray="2 2" fill="none"><path d="M873.3 140.7 H940"/><path d="M882.7 180.4 H1000"/><path d="M898.9 244.4 L955 222.7 H986"/><path d="M897.4 331.6 L955 263.45 H1005"/><path d="M890 403.3 L955 304.2 H999"/><path d="M897.4 447.3 L955 344.95 H997"/><path d="M905 467 L955 385.7 H979"/><path d="M901.8 487.4 L955 426.45 H1006"/><path d="M897.2 513.5 L955 467.2 H1022"/><path d="M893.9 538.6 L955 507.95 H1010"/><path d="M892.9 558 L955 548.7 H1008"/><path d="M895.2 581.5 L989 590.45"/><path d="M896.2 609.3 L955 630.2 H998"/><path d="M897.8 651.5 L955 670.95 H1000"/></g><circle cx="873.3" cy="140.7" r="3" fill="#4D5E6A"/><circle cx="882.7" cy="180.4" r="3" fill="#4D5E6A"/><circle cx="898.9" cy="244.4" r="3" fill="#4D5E6A"/><circle cx="897.4" cy="331.6" r="3" fill="#4D5E6A"/><circle cx="890" cy="403.3" r="3" fill="#4D5E6A"/><circle cx="897.4" cy="447.3" r="3" fill="#4D5E6A"/><circle cx="905" cy="467" r="3" fill="#4D5E6A"/><circle cx="901.8" cy="487.4" r="3" fill="#4D5E6A"/><circle cx="897.2" cy="513.5" r="3" fill="#4D5E6A"/><circle cx="893.9" cy="538.6" r="3" fill="#4D5E6A"/><circle cx="892.9" cy="558" r="3" fill="#4D5E6A"/><circle cx="895.2" cy="581.5" r="3" fill="#4D5E6A"/><circle cx="896.2" cy="609.3" r="3" fill="#4D5E6A"/><circle cx="897.8" cy="651.5" r="3" fill="#4D5E6A"/></svg>
<div class="t" style="left:951px;top:700.5px;font-size:12px;color:#444;font-weight:normal;">*智利SEN覆盖区域。</div>
<div class="t" style="left:1271px;top:699px;font-size:14px;color:#555;font-weight:normal;">7</div>
<svg class="r" style="left:860px;top:650px" width="60" height="48" viewBox="0 0 60 48">
<ellipse cx="20" cy="20" rx="18" ry="16" fill="#9E9E9E" opacity="0.7"/>
<path d="M8 30 L4 40 L16 34Z" fill="#9E9E9E" opacity="0.7"/>
<ellipse cx="38" cy="30" rx="16" ry="14" fill="#A5A5A5" opacity="0.8"/>
<path d="M46 40 L52 47 L42 43Z" fill="#A5A5A5" opacity="0.8"/>
<circle cx="14" cy="16" r="2.2" fill="#fff"/><circle cx="25" cy="16" r="2.2" fill="#fff"/>
<circle cx="33" cy="27" r="2" fill="#fff"/><circle cx="43" cy="27" r="2" fill="#fff"/>
</svg>
<div class="t" style="left:918.5px;top:653.5px;font-size:32px;font-weight:normal;color:rgba(120,120,120,0.55)">公</div>
<div class="t" style="left:954px;top:653.5px;font-size:32px;font-weight:normal;color:rgba(120,120,120,0.55)">众</div>
<div class="t" style="left:989.5px;top:653.5px;font-size:32px;font-weight:normal;color:rgba(120,120,120,0.55)">号</div>
<div class="t" style="left:1061.5px;top:653.5px;font-size:32px;font-weight:normal;color:rgba(120,120,120,0.55)">西</div>
<div class="t" style="left:1097px;top:653.5px;font-size:32px;font-weight:normal;color:rgba(120,120,120,0.55)">西</div>
<div class="t" style="left:1133.5px;top:653.5px;font-size:32px;font-weight:normal;color:rgba(120,120,120,0.55)">弗</div>
<div class="t" style="left:1169px;top:653.5px;font-size:32px;font-weight:normal;color:rgba(120,120,120,0.55)">光</div>
<div class="t" style="left:1205.5px;top:653.5px;font-size:32px;font-weight:normal;color:rgba(120,120,120,0.55)">储</div>
</body></html>
